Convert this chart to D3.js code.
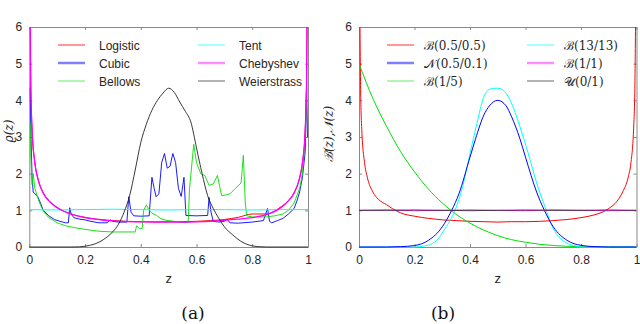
<!DOCTYPE html>
<html><head><meta charset="utf-8">
<script src="https://cdn.jsdelivr.net/npm/d3@7"></script>
<style>
html,body{margin:0;padding:0;background:#fff;}
svg{display:block;}
</style></head>
<body>
<svg id="chart" width="640" height="324"></svg>
<script>
// ---------- DATA ----------
const xTicks = [0, 0.2, 0.4, 0.6, 0.8, 1];
const xTickLabels = ["0", "0.2", "0.4", "0.6", "0.8", "1"];
const yTicks = [0, 1, 2, 3, 4, 5, 6];
const yTickLabels = ["0", "1", "2", "3", "4", "5", "6"];

// Panel (a)
const logisticZ = [0.002,0.005,0.01,0.02,0.03,0.05,0.07,0.1,0.15,0.2,0.25,0.3,0.35,0.4,0.45,0.5,0.55,0.6,0.65,0.7,0.75,0.8,0.85,0.9,0.93,0.95,0.97,0.98,0.99,0.995,0.998];
const logisticV = [8,4.6,3.2,2.3,1.9,1.48,1.27,1.08,0.9,0.81,0.75,0.72,0.7,0.69,0.685,0.69,0.69,0.7,0.72,0.75,0.81,0.9,0.9,1.08,1.27,1.48,1.9,2.3,3.2,4.6,8];
const chebyshevZ = [0.002,0.005,0.01,0.02,0.03,0.05,0.07,0.1,0.15,0.2,0.25,0.3,0.35,0.4,0.45,0.5,0.55,0.6,0.65,0.7,0.75,0.8,0.85,0.9,0.93,0.95,0.97,0.98,0.99,0.995,0.998];
const chebyshevV = [8,4.5,3.2,2.28,1.88,1.47,1.26,1.07,0.9,0.8,0.75,0.71,0.69,0.685,0.68,0.68,0.68,0.685,0.7,0.73,0.76,0.8,0.88,1.06,1.26,1.47,1.88,2.28,3.2,4.5,8];
const cubicZ = [0.003,0.006,0.01,0.014,0.02,0.03,0.04,0.05,0.07,0.09,0.11,0.13,0.14,0.145,0.15,0.16,0.18,0.2,0.22,0.25,0.28,0.29,0.3,0.32,0.35,0.357,0.365,0.375,0.4,0.43,0.44,0.448,0.455,0.465,0.475,0.485,0.495,0.505,0.515,0.525,0.535,0.545,0.555,0.562,0.6,0.64,0.645,0.652,0.66,0.68,0.7,0.71,0.72,0.75,0.8,0.84,0.855,0.862,0.87,0.89,0.91,0.93,0.95,0.96,0.97,0.98,0.99,0.995,0.998];
const cubicV = [4.35,3.0,1.9,1.5,1.45,1.38,1.2,1.0,0.85,0.75,0.7,0.66,0.66,1.07,0.9,0.8,0.76,0.74,0.7,0.66,0.66,0.74,0.7,0.68,0.68,1.37,0.95,0.85,0.84,0.85,1.9,1.6,1.37,1.45,2.3,2.55,2.15,2.2,2.55,2.3,1.6,1.38,1.9,0.86,0.85,0.86,1.35,0.95,0.7,0.68,0.7,0.76,0.66,0.65,0.68,0.72,1.05,0.7,0.66,0.72,0.78,0.9,1.05,1.25,1.5,1.9,2.6,4.5,3.0];
const bellowsZ = [0.003,0.006,0.01,0.014,0.02,0.03,0.04,0.05,0.07,0.1,0.13,0.16,0.2,0.25,0.3,0.35,0.38,0.385,0.395,0.405,0.41,0.42,0.43,0.44,0.455,0.47,0.49,0.52,0.56,0.57,0.575,0.59,0.6,0.615,0.63,0.645,0.66,0.675,0.69,0.705,0.72,0.74,0.76,0.768,0.775,0.78,0.8,0.85,0.88,0.91,0.93,0.95,0.97,0.98,0.99,0.995];
const bellowsV = [3.4,2.4,1.7,2.0,1.6,1.35,1.15,0.98,0.8,0.66,0.58,0.53,0.48,0.43,0.41,0.41,0.41,0.58,0.5,0.5,1.0,1.15,1.0,0.92,0.87,0.78,0.73,0.7,0.66,0.68,1.6,2.8,2.3,2.0,1.95,1.68,1.72,1.95,1.4,1.42,1.45,1.6,1.75,2.5,1.2,0.85,0.82,0.82,0.85,0.9,1.0,1.2,1.6,2.0,3.0,4.1];
const tentZ = [0,0.1,0.2,0.3,0.4,0.5,0.6,0.7,0.8,0.9,1];
const tentV = [1.02,1.01,1.02,1.03,1.02,1.01,1.02,1.02,1.01,1.02,1.02];
const weierZ = [0,0.15,0.18,0.2,0.22,0.25,0.28,0.3,0.32,0.34,0.36,0.38,0.4,0.42,0.44,0.46,0.48,0.5,0.52,0.54,0.56,0.58,0.6,0.62,0.64,0.66,0.68,0.7,0.73,0.76,0.79,0.82,0.85,1];
const weierV = [0,0,0.005,0.02,0.05,0.13,0.28,0.42,0.62,0.95,1.4,2.1,2.85,3.35,3.73,4.0,4.2,4.33,4.22,3.95,3.7,3.4,2.7,2.0,1.4,1.05,0.78,0.55,0.33,0.15,0.05,0.01,0,0];

// Panel (b)
const beta55Z = [0.003,0.006,0.01,0.02,0.03,0.05,0.07,0.1,0.12,0.15,0.2,0.25,0.3,0.35,0.4,0.45,0.5,0.55,0.6,0.65,0.7,0.75,0.8,0.85,0.88,0.9,0.93,0.95,0.97,0.98,0.99,0.994,0.997];
const beta55V = [6.5,4.2,3.2,2.3,1.9,1.5,1.3,1.15,1.05,0.93,0.84,0.78,0.74,0.72,0.7,0.69,0.68,0.69,0.69,0.7,0.72,0.75,0.8,0.88,0.96,1.05,1.25,1.5,1.9,2.3,3.3,4.3,6.5];
const normalZ = [0,0.1,0.15,0.2,0.25,0.3,0.334,0.36,0.4,0.42,0.45,0.47,0.5,0.53,0.55,0.58,0.6,0.64,0.668,0.7,0.75,0.8,0.85,0.9,1];
const normalV = [0,0,0.01,0.04,0.18,0.55,1.0,1.45,2.45,2.95,3.6,3.85,4.0,3.85,3.55,2.95,2.45,1.5,1.0,0.55,0.18,0.045,0.01,0,0];
const beta15Z = [0,0.05,0.1,0.15,0.2,0.25,0.3,0.35,0.4,0.45,0.5,0.55,0.6,0.65,0.7,0.75,0.8,0.9,1];
const beta15V = [5.0,4.05,3.28,2.6,2.05,1.58,1.2,0.89,0.65,0.46,0.31,0.2,0.13,0.075,0.04,0.02,0.008,0.001,0];
const beta1313Z = [0,0.2,0.22,0.25,0.28,0.31,0.346,0.37,0.4,0.425,0.45,0.47,0.49,0.5,0.51,0.52,0.545,0.58,0.61,0.64,0.67,0.7,0.72,0.75,0.78,0.8,1];
const beta1313V = [0,0,0.01,0.05,0.18,0.5,1.0,1.55,2.55,3.37,4.1,4.3,4.33,4.33,4.32,4.28,4.0,3.28,2.55,1.75,1.1,0.5,0.28,0.1,0.03,0,0];
const beta11Z = [0,0.1,0.2,0.3,0.4,0.5,0.6,0.7,0.8,0.9,1];
const beta11V = [1.0,1.01,0.99,1.0,1.01,1.0,0.99,1.01,1.0,0.99,1.0];
const unifZ = [0,0.1,0.2,0.3,0.4,0.5,0.6,0.7,0.8,0.9,1];
const unifV = [1.0,1.0,1.01,1.0,0.99,1.0,1.01,1.0,1.0,1.01,1.0];

const legendA = ["Logistic","Cubic","Bellows","Tent","Chebyshev","Weierstrass"];
const legendB = ["ℬ(0.5/0.5)","𝒩(0.5/0.1)","ℬ(1/5)","ℬ(13/13)","ℬ(1/1)","𝒰(0/1)"];
const colors = ["#ff0000","#0000ff","#00e000","#00ffff","#ff00ff","#000000"];

// ---------- DRAW ----------
const svg = d3.select("#chart");
const axisColor = "#8a8a8a";
const textColor = "#262626";

function panel(cfg, idx) {
  const x = d3.scaleLinear().domain([0,1]).range([cfg.x0, cfg.x1]);
  const y = d3.scaleLinear().domain([0,6]).range([247, 27]);
  const g = svg.append("g");
  const clipId = "clip" + idx;
  svg.append("clipPath").attr("id", clipId).append("rect")
    .attr("x", cfg.x0).attr("y", 27).attr("width", cfg.x1 - cfg.x0).attr("height", 221);

  const fmt = (d) => xTickLabels[xTicks.indexOf(d)];
  const bottom = d3.axisBottom(x).tickValues(xTicks).tickFormat(fmt).tickSizeInner(-3).tickSizeOuter(0).tickPadding(8);
  const top = d3.axisTop(x).tickValues(xTicks).tickFormat("").tickSizeInner(-3).tickSizeOuter(0);
  const left = d3.axisLeft(y).tickValues(yTicks).tickFormat(d => yTickLabels[yTicks.indexOf(d)]).tickSizeInner(-3).tickSizeOuter(0).tickPadding(7);
  const right = d3.axisRight(y).tickValues(yTicks).tickFormat("").tickSizeInner(-3).tickSizeOuter(0);
  [[bottom,`translate(0,247)`],[top,`translate(0,27)`],[left,`translate(${cfg.x0},0)`],[right,`translate(${cfg.x1},0)`]].forEach(([ax,tr]) => {
    const a = g.append("g").attr("transform", tr).call(ax);
    a.selectAll("path,line").attr("stroke", axisColor);
    a.selectAll("text").attr("fill", textColor).style("font-family","'Liberation Sans', Arial, sans-serif").style("font-size","12px");
  });

  const lg = g.append("g").attr("clip-path", `url(#${clipId})`);
  cfg.series.forEach((s, i) => {
    const line = d3.line().x(d => x(d[0])).y(d => y(d[1]))
      .curve(s.smooth ? d3.curveMonotoneX : d3.curveLinear);
    const pts = s.z.map((z, k) => [z, s.v[k]]);
    lg.append("path").datum(pts).attr("d", line).attr("fill","none")
      .attr("stroke", s.color).attr("stroke-width", s.w || 1).attr("stroke-linejoin","round");
  });

  const rows = [45, 63, 81];
  cfg.legend.forEach((name, i) => {
    const col = Math.floor(i / 3), row = i % 3;
    const lx = cfg.legX[col], ly = rows[row];
    g.append("line").attr("x1", lx).attr("x2", lx + 27).attr("y1", ly).attr("y2", ly)
      .attr("stroke", cfg.legColors[i]).attr("stroke-width", cfg.legW[i]).attr("stroke-opacity", cfg.legOp[i]);
    g.append("text").attr("x", lx + cfg.textGap).attr("y", ly + 4.5).text(name)
      .attr("fill", textColor)
      .style("font-family", cfg.legFont).style("font-size", cfg.legSize);
  });

  g.append("text").attr("x", (cfg.x0 + cfg.x1) / 2).attr("y", 283).attr("text-anchor","middle")
    .attr("fill", textColor).style("font-family","'Liberation Sans', Arial, sans-serif").style("font-size","13px").text("z");
  g.append("text").attr("transform", `translate(${cfg.ylabX},${cfg.ylabY}) rotate(-90)`).attr("text-anchor","middle")
    .attr("fill", textColor).style("font-family","'DejaVu Serif', serif").style("font-size","12px").style("font-style","italic")
    .text(cfg.ylab);
  g.append("text").attr("x", cfg.capX).attr("y", 319).attr("text-anchor","middle")
    .attr("fill", "#111").style("font-family","'DejaVu Serif', serif").style("font-size","17px").text(cfg.cap);
}

panel({
  x0: 29.3, x1: 308,
  series: [
    {z: logisticZ, v: logisticV, color: colors[0], smooth: true},
    {z: cubicZ, v: cubicV, color: colors[1], w: 0.9},
    {z: bellowsZ, v: bellowsV, color: colors[2], w: 0.9},
    {z: tentZ, v: tentV, color: colors[3]},
    {z: chebyshevZ, v: chebyshevV, color: colors[4], w: 1.3, smooth: true},
    {z: weierZ, v: weierV, color: "#222", w: 0.9, smooth: true}
  ],
  legend: legendA, legX: [58, 198], textGap: 41,
  legColors: colors, legW: [1,2.5,1,1,2.5,1], legOp: [0.8,0.5,0.6,0.7,0.45,0.6],
  legFont: "'Liberation Sans', Arial, sans-serif", legSize: "12px",
  ylab: "ϱ(z)", ylabX: 13, ylabY: 131, cap: "(a)", capX: 193
}, 0);

panel({
  x0: 359, x1: 636.5,
  series: [
    {z: beta55Z, v: beta55V, color: colors[0], smooth: true},
    {z: beta15Z, v: beta15V, color: colors[2], smooth: true},
    {z: beta1313Z, v: beta1313V, color: colors[3], smooth: true},
    {z: normalZ, v: normalV, color: colors[1], smooth: true},
    {z: beta11Z, v: beta11V, color: colors[4]},
    {z: unifZ, v: unifV, color: "#333", w: 0.9}
  ],
  legend: legendB, legX: [387, 527], textGap: 37,
  legColors: colors, legW: [1,2.5,1,1,2.5,1], legOp: [0.8,0.5,0.6,0.7,0.45,0.6],
  legFont: "'DejaVu Serif', serif", legSize: "12px",
  ylab: "ℬ(z),𝒩(z)", ylabX: 333, ylabY: 134, cap: "(b)", capX: 443
}, 1);
</script>
</body></html>
